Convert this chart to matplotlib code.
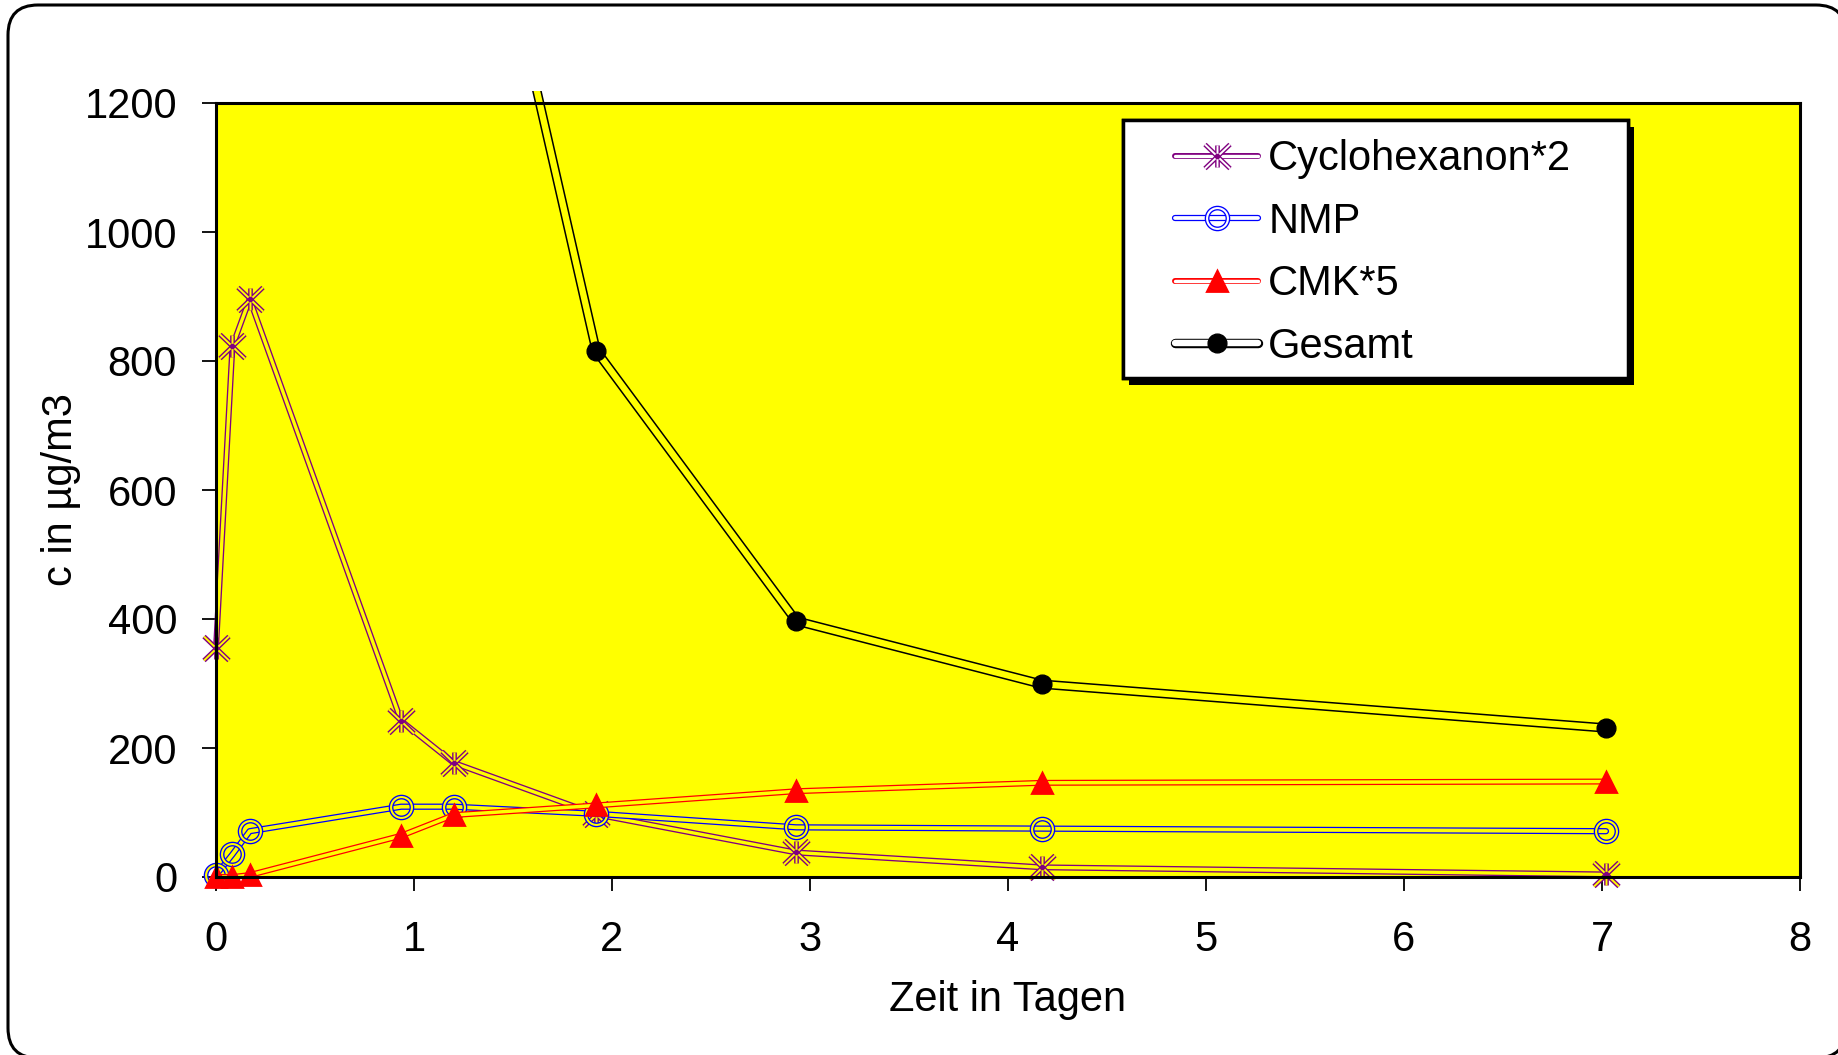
import matplotlib
matplotlib.use('Agg')
from matplotlib import pyplot as plt
from matplotlib.lines import Line2D
from matplotlib.legend_handler import HandlerTuple
from matplotlib.patches import FancyBboxPatch, Rectangle
from matplotlib.path import Path
import matplotlib.patheffects as pe

plt.rcParams['font.family'] = ['Liberation Sans', 'DejaVu Sans']

# data
t_cyc = [0.0, 0.083, 0.17, 0.935, 1.2, 1.92, 2.93, 4.17, 7.02]
cyc = [355, 823, 896, 242, 177, 97, 38, 15, 4]

t_nmp = [0.0, 0.083, 0.17, 0.935, 1.2, 1.92, 2.93, 4.17, 7.02]
nmp = [3, 35, 71, 109, 109, 98, 77, 75, 71]

t_cmk = [0.0, 0.083, 0.17, 0.935, 1.2, 1.92, 2.93, 4.17, 7.02]
cmk = [0, 0, 3, 64, 96, 111, 133, 146, 148]

t_ges = [1.2, 1.92, 2.93, 4.17, 7.02]
ges = [1785, 816, 397, 299, 231]

labels = ['Cyclohexanon*2', 'NMP', 'CMK*5', 'Gesamt']
yellow = '#FFFF00'
purple, blue, red = '#800080', '#0000FF', '#FF0000'

# asterisk marker: vertical arm + two diagonals
star = Path([(0, 0.88), (0, -0.88), (-1, -0.96), (1, 0.96), (-1, 0.96), (1, -0.96)],
            [Path.MOVETO, Path.LINETO, Path.MOVETO, Path.LINETO, Path.MOVETO, Path.LINETO])

fig = plt.figure(figsize=(18.38, 10.55), dpi=100)
fig.patch.set_facecolor('white')
ax = fig.add_axes([216/1838, 1-877/1055, 1584/1838, 774/1055])
ax.set_facecolor(yellow)
ax.set_xlim(0, 8)
ax.set_ylim(0, 1200)

clip = Rectangle((-1, -200), 10, 1418, transform=ax.transData)


def dline(x, y, c, outer, inner, z):
    a = ax.plot(x, y, color=c, lw=outer, solid_capstyle='round', solid_joinstyle='round', zorder=z)[0]
    b = ax.plot(x, y, color=yellow, lw=inner, solid_capstyle='round', solid_joinstyle='round', zorder=z)[0]
    for l in (a, b):
        l.set_clip_path(clip)


# Cyclohexanon*2
dline(t_cyc, cyc, purple, 4.3, 2.4, 3)
ax.plot(t_cyc, cyc, ls='none', marker=star, ms=18, mec=purple, mew=3.4, zorder=3, clip_on=False)
ax.plot(t_cyc, cyc, ls='none', marker=star, ms=18, mec=yellow, mew=1.4, zorder=3, clip_on=False)
ax.plot(t_cyc, cyc, ls='none', marker='o', ms=3, mfc=purple, mec=purple, zorder=3, clip_on=False)

# NMP
dline(t_nmp, nmp, blue, 4.5, 2.7, 4)
ax.plot(t_nmp, nmp, ls='none', marker='o', ms=15, mfc='none', mec=blue, mew=3.4, zorder=4, clip_on=False)
ax.plot(t_nmp, nmp, ls='none', marker='o', ms=15, mfc='none', mec=yellow, mew=1.5, zorder=4, clip_on=False)

# CMK*5
dline(t_cmk, cmk, red, 4.3, 2.5, 5)
ax.plot(t_cmk, cmk, ls='none', marker='^', ms=14, mfc=red, mec=red, mew=2,
        zorder=5, clip_on=False)

# Gesamt
dline(t_ges, ges, 'black', 6.8, 4.6, 6)
ax.plot(t_ges, ges, ls='none', marker='o', ms=13.5, mfc='black', mec='black', zorder=6)

ax.set_xticks(range(0, 9))
ax.set_yticks(range(0, 1201, 200))
ax.tick_params(axis='both', direction='out', length=10, width=1.3, labelsize=30, color='black')
ax.tick_params(axis='y', pad=18)
ax.tick_params(axis='x', pad=21)
for s in ax.spines.values():
    s.set_linewidth(2.2)
    s.set_zorder(7)
ax.set_xlabel('Zeit in Tagen', fontsize=30)
ax.set_ylabel('c in µg/m3', fontsize=30)
ax.xaxis.set_label_coords(0.5, -0.133)
ax.yaxis.set_label_coords(-0.085, 0.5)


# legend with white-centred double lines
def lh(c, outer, inner, marks):
    return (Line2D([], [], color=c, lw=outer, solid_capstyle='round'),
            Line2D([], [], color='white', lw=inner, solid_capstyle='round'),
            *[Line2D([], [], ls='none', **m) for m in marks])


handles = [
    lh(purple, 4.3, 2.4, [dict(marker=star, ms=18, mec=purple, mew=3.4),
                          dict(marker=star, ms=18, mec='white', mew=1.4),
                          dict(marker='o', ms=3, mfc=purple, mec=purple)]),
    lh(blue, 4.5, 2.7, [dict(marker='o', ms=15, mfc='none', mec=blue, mew=3.4),
                        dict(marker='o', ms=15, mfc='none', mec='white', mew=1.5)]),
    lh(red, 4.3, 2.5, [dict(marker='^', ms=14, mfc=red, mec=red, mew=2)]),
    lh('black', 6.8, 4.6, [dict(marker='o', ms=13.5, mfc='black', mec='black')]),
]

box = Rectangle((0.5726, 0.6447), 0.3188, 0.3333, transform=ax.transAxes,
                facecolor='white', edgecolor='black', lw=2.5, zorder=9)
box.set_path_effects([pe.withSimplePatchShadow(offset=(4, -5), shadow_rgbFace='black', alpha=1),
                      pe.Normal()])
ax.add_patch(box)

leg = ax.legend(handles, labels, handler_map={tuple: HandlerTuple(ndivide=1, pad=0)},
                loc='upper left', bbox_to_anchor=(0.6054, 0.953), borderaxespad=0,
                fontsize=30, frameon=False, handlelength=2.0,
                handletextpad=0.24, labelspacing=0.54, borderpad=0)
leg.set_zorder(10)

# rounded outer frame (filled white so the stroke is not path-clipped), behind the axes
frame = FancyBboxPatch((0.08, -0.03), 18.38, 10.53, boxstyle='round,pad=0,rounding_size=0.30',
                       transform=fig.dpi_scale_trans, facecolor='white',
                       edgecolor='black', lw=2.2, zorder=-1)
fig.patches.append(frame)

fig.savefig('out.png', dpi=100)
